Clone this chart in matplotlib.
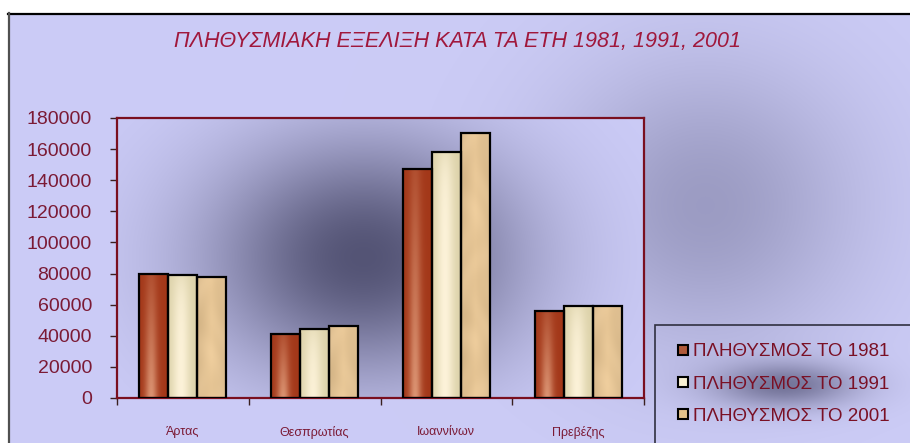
import numpy as np
import matplotlib.pyplot as plt
from matplotlib.lines import Line2D
from matplotlib.patches import Rectangle

plt.rcParams['font.family'] = ['Liberation Sans', 'DejaVu Sans']

# population per prefecture (Epirus), census years 1981 / 1991 / 2001
nomoi = ['Άρτας', 'Θεσπρωτίας', 'Ιωαννίνων', 'Πρεβέζης']
pop_1981 = [80000, 41300, 147300, 55900]
pop_1991 = [78900, 44200, 158200, 58900]
pop_2001 = [78100, 46100, 170200, 59400]
series_labels = ['ΠΛΗΘΥΣΜΟΣ ΤΟ 1981', 'ΠΛΗΘΥΣΜΟΣ ΤΟ 1991', 'ΠΛΗΘΥΣΜΟΣ ΤΟ 2001']
yticks = list(range(0, 180001, 20000))
title = 'ΠΛΗΘΥΣΜΙΑΚΗ ΕΞΕΛΙΞΗ ΚΑΤΑ ΤΑ ΕΤΗ 1981, 1991, 2001'

W, H = 910, 443
TEXT_RED = '#7b1a35'
FRAME_RED = '#7a0f1f'


def shade(base, dark, weight):
    base = np.array(base)
    dark = np.array(dark)
    return base + (dark - base) * weight[..., None]


def brick_fill(n, m):
    u = np.linspace(0, 1, m)[None, :]
    v = np.linspace(0, 1, n)[:, None]
    hi = np.exp(-((u - 0.42) / 0.22) ** 2) * (0.25 + 0.75 * v)
    return shade((0.64, 0.22, 0.10), (0.86, 0.58, 0.45), hi)


def cream_fill(n, m):
    u = np.linspace(0, 1, m)[None, :]
    y = np.arange(n)[:, None]
    hi = np.exp(-((u - 0.45) / 0.32) ** 2) * (1 - 0.6 * np.exp(-y / 25.0))
    return shade((0.86, 0.82, 0.66), (0.99, 0.95, 0.85), hi)


def tan_fill(n, m):
    x = np.arange(m)[None, :].astype(float)
    y = np.arange(n)[:, None].astype(float)
    tex = (np.sin(0.21 * x + 1.7 * np.sin(0.05 * y)) * np.sin(0.09 * y + 1.1 * np.sin(0.13 * x))
           + 0.6 * np.sin(0.04 * x + 0.07 * y + 2.0 * np.sin(0.03 * y)))
    tex = tex / np.abs(tex).max()
    u = x / max(m - 1, 1)
    edge = 1 - 0.06 * np.abs(u - 0.5) * 2
    rgb = np.array((0.91, 0.78, 0.59)) + 0.03 * tex[..., None]
    return np.clip(rgb * edge[..., None], 0, 1)


def blob(xx, yy, cx, cy, sx, sy):
    return np.exp(-(((xx - cx) / sx) ** 2 + ((yy - cy) / sy) ** 2) / 2)


fig = plt.figure(figsize=(W / 100, H / 100), dpi=100)

# chart area background: lavender with soft dark shadows
yy, xx = np.mgrid[0:H, 0:W].astype(float)
w = 0.45 * blob(xx, yy, 705, 205, 105, 100) + 0.75 * blob(xx, yy, 785, 385, 50, 16)
bg = shade((0.80, 0.80, 0.965), (0.38, 0.38, 0.52), np.clip(w, 0, 1))
bg[:13, :] = 1.0
bg[:, :8] = 1.0
bg_ax = fig.add_axes([0, 0, 1, 1], zorder=-10)
bg_ax.imshow(bg, extent=[0, W, H, 0], aspect='auto', interpolation='bilinear')
bg_ax.plot([8, W], [13.5, 13.5], color='black', lw=1.6)
bg_ax.plot([8.5, 8.5], [13, H], color='#505050', lw=1.6)
bg_ax.set_xlim(0, W)
bg_ax.set_ylim(H, 0)
bg_ax.axis('off')

# plot area
pos = [117 / W, 45 / H, 527 / W, 280 / H]
pa_ax = fig.add_axes(pos, zorder=0)
py, px = np.mgrid[0:280, 0:527].astype(float)
pw = blob(px, py, 246, 139, 100, 75) ** 0.8
pa = shade((0.80, 0.80, 0.97), (0.33, 0.33, 0.46), pw)
pa_ax.imshow(pa, extent=[0, 1, 0, 1], aspect='auto', interpolation='bilinear')
pa_ax.axis('off')

ax = fig.add_axes(pos, zorder=1)
ax.set_facecolor('none')
ax.set_xlim(0, len(nomoi))
ax.set_ylim(0, 180000)

bw = 0.22
centers = np.arange(len(nomoi)) + 0.5
fills = [brick_fill, cream_fill, tan_fill]
for k, (vals, fill) in enumerate(zip([pop_1981, pop_1991, pop_2001], fills)):
    bars = ax.bar(centers + (k - 1) * bw, vals, width=bw, facecolor='none',
                  edgecolor='black', linewidth=1.6, zorder=3)
    for p in bars.patches:
        x0, y0, bwid, bh = p.get_x(), p.get_y(), p.get_width(), p.get_height()
        (px0, py0), (px1, py1) = ax.transData.transform([(x0, y0), (x0 + bwid, y0 + bh)])
        img = fill(max(int(py1 - py0), 2), max(int(px1 - px0), 2))
        ax.imshow(img, extent=[x0, x0 + bwid, y0, y0 + bh], aspect='auto',
                  interpolation='bilinear', zorder=2)

ax.set_xlim(0, len(nomoi))
ax.set_ylim(0, 180000)

for s in ax.spines.values():
    s.set_color(FRAME_RED)
    s.set_linewidth(1.6)

ax.set_yticks(yticks)
ax.set_yticklabels([str(t) for t in yticks])
ax.tick_params(axis='y', direction='out', length=5, width=1, color='#3a2020',
               labelcolor=TEXT_RED, labelsize=14, pad=13)

ax.set_xticks(centers)
ax.set_xticklabels(nomoi)
ax.set_xticks(np.arange(len(nomoi) + 1), minor=True)
ax.tick_params(axis='x', which='major', length=0, labelcolor=TEXT_RED, labelsize=9, pad=20)
ax.tick_params(axis='x', which='minor', direction='out', length=5, width=1, color='#3a2020')

fig.text(458 / W, 1 - 42 / H, title, ha='center', va='center', fontstyle='italic',
         fontsize=15.5, color='#a0183c')

# legend box runs past the right and bottom edge
fig.add_artist(Rectangle((655 / W, -0.05), 0.3, 1 - 325 / H + 0.05, transform=fig.transFigure,
                         facecolor='none', edgecolor='#303040', lw=1.2, zorder=2))
marker_colors = ['#b05a3a', '#f8f0d2', '#e2c08a']
handles = [Line2D([], [], marker='s', ls='none', markersize=7, markerfacecolor=c,
                  markeredgecolor='black', markeredgewidth=1.5) for c in marker_colors]
fig.legend(handles, series_labels, loc='upper left', bbox_to_anchor=(666 / W, 1 - 334 / H),
           frameon=False, fontsize=13.5, labelcolor='#7a1025', handlelength=0.8,
           handletextpad=0.15, labelspacing=0.8, borderpad=0)

fig.savefig('out.png', dpi=100)
